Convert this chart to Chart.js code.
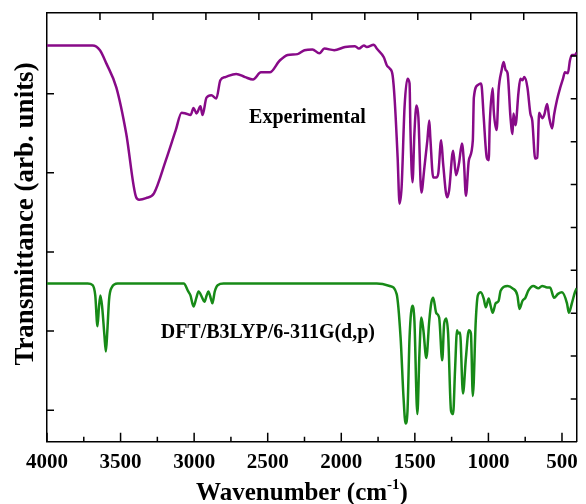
<!DOCTYPE html>
<html>
<head>
<meta charset="utf-8">
<script src="https://cdn.jsdelivr.net/npm/chart.js@4/dist/chart.umd.min.js"></script>
<style>
  html, body { margin: 0; padding: 0; background: #fff; }
  #wrap { width: 586px; height: 504px; }
</style>
</head>
<body>
<div id="wrap"><canvas id="irChart" width="586" height="504"></canvas></div>
<script>
// experimental FT-IR spectrum (wavenumber in cm-1, transmittance in arb. units)
let expWavenumber = [4000, 3690, 3640, 3596, 3529, 3462, 3394, 3374, 3327, 3273, 3192, 3125, 3085, 3058, 3024, 3004, 2984, 2957, 2943, 2916, 2883, 2849, 2822, 2788, 2714, 2654, 2600, 2546, 2486, 2418, 2364, 2297, 2250, 2196, 2149, 2115, 2048, 1974, 1907, 1880, 1846, 1826, 1779, 1759, 1711, 1691, 1671, 1651, 1637, 1617, 1604, 1590, 1570, 1550, 1536, 1530, 1516, 1503, 1489, 1476, 1456, 1435, 1415, 1402, 1395, 1375, 1355, 1341, 1321, 1308, 1281, 1267, 1240, 1220, 1200, 1180, 1166, 1153, 1133, 1106, 1099, 1072, 1052, 1045, 1032, 1011, 998, 991, 971, 964, 944, 931, 910, 897, 883, 870, 850, 836, 830, 816, 796, 783, 769, 756, 735, 715, 702, 682, 668, 655, 635, 621, 601, 587, 567, 554, 534, 513, 493, 480, 460, 446, 433, 412, 400]
let expTransmittance = [4.61, 4.61, 4.55, 4.38, 4.08, 3.50, 2.69, 2.66, 2.68, 2.74, 3.16, 3.54, 3.76, 3.75, 3.73, 3.82, 3.75, 3.84, 3.73, 3.95, 3.98, 3.94, 4.17, 4.21, 4.25, 4.21, 4.18, 4.27, 4.27, 4.42, 4.49, 4.50, 4.55, 4.56, 4.51, 4.57, 4.55, 4.59, 4.60, 4.57, 4.61, 4.59, 4.62, 4.57, 4.46, 4.36, 4.32, 4.23, 3.92, 3.19, 2.61, 2.82, 3.83, 4.19, 4.13, 3.54, 2.88, 3.50, 3.85, 3.70, 2.75, 3.07, 3.41, 3.66, 3.45, 2.94, 2.94, 2.99, 3.41, 3.12, 2.69, 2.78, 3.28, 2.97, 3.12, 3.37, 3.12, 2.71, 3.16, 3.41, 3.95, 4.11, 4.13, 4.08, 3.70, 3.19, 3.16, 3.62, 4.07, 3.79, 3.54, 4.04, 4.30, 4.40, 4.30, 4.26, 3.70, 3.49, 3.75, 3.60, 4.01, 4.19, 4.17, 4.21, 4.08, 3.75, 3.66, 3.18, 3.19, 3.76, 3.69, 3.73, 3.87, 3.70, 3.56, 3.73, 3.92, 4.07, 4.19, 4.27, 4.26, 4.42, 4.49, 4.49, 4.52]

// computed spectrum DFT/B3LYP/6-311G(d,p)
let dftWavenumber = [4000, 3724, 3690, 3672, 3657, 3647, 3637, 3625, 3610, 3600, 3590, 3578, 3560, 3520, 3071, 3040, 3025, 3004, 2985, 2970, 2945, 2930, 2915, 2903, 2885, 2876, 2860, 2840, 2800, 1759, 1671, 1624, 1597, 1577, 1563, 1550, 1536, 1516, 1503, 1483, 1469, 1456, 1442, 1422, 1402, 1388, 1375, 1355, 1335, 1314, 1301, 1287, 1274, 1254, 1240, 1227, 1213, 1207, 1193, 1173, 1153, 1133, 1119, 1106, 1086, 1072, 1052, 1032, 1018, 998, 985, 971, 951, 931, 917, 870, 836, 803, 789, 769, 749, 729, 695, 661, 635, 601, 581, 554, 527, 500, 466, 453, 433, 412, 400]
let dftTransmittance = [1.60, 1.60, 1.58, 1.45, 1.06, 1.30, 1.45, 1.30, 0.95, 0.74, 1.00, 1.40, 1.55, 1.60, 1.60, 1.50, 1.45, 1.31, 1.42, 1.50, 1.42, 1.37, 1.45, 1.50, 1.40, 1.35, 1.50, 1.58, 1.60, 1.60, 1.57, 1.47, 0.92, 0.16, -0.17, -0.01, 0.92, 1.32, 1.13, -0.05, 0.71, 1.17, 1.01, 0.66, 1.13, 1.36, 1.42, 1.23, 1.17, 0.63, 1.09, 1.16, 0.97, -0.01, -0.05, 0.50, 1.01, 0.97, 0.98, 0.21, 0.66, 1.01, 0.97, 0.18, 1.13, 1.45, 1.49, 1.41, 1.30, 1.41, 1.32, 1.23, 1.35, 1.38, 1.51, 1.57, 1.54, 1.45, 1.28, 1.38, 1.42, 1.51, 1.57, 1.54, 1.57, 1.55, 1.55, 1.42, 1.47, 1.49, 1.35, 1.23, 1.35, 1.49, 1.54]

let xTickValues = [4000, 3500, 3000, 2500, 2000, 1500, 1000, 500]
let yTickValues = [0, 1, 2, 3, 4]

function toPoints(xs, ys) {
    return xs.map((x, i) => ({x: x, y: ys[i]}))
}

const serif = '"Liberation Serif", "Times New Roman", serif'

// inward tick marks, curve labels and axis titles
const decorations = {
    id: 'decorations',
    afterDraw(chart) {
        const {ctx, chartArea: a, scales} = chart
        ctx.save()
        ctx.strokeStyle = '#000'
        ctx.lineWidth = 1.5
        ctx.beginPath()
        xTickValues.forEach(v => {
            let px = scales.x.getPixelForValue(v)
            ctx.moveTo(px, a.bottom); ctx.lineTo(px, a.bottom - 9)
            let m = v - 250
            if (m > 400) {
                let pm = scales.x.getPixelForValue(m)
                ctx.moveTo(pm, a.bottom); ctx.lineTo(pm, a.bottom - 5)
            }
        })
        for (let i = 1; i < 10; i++) {
            let px = scales.x2.getPixelForValue(i)
            ctx.moveTo(px, a.top); ctx.lineTo(px, a.top + 7)
            let py = scales.y2.getPixelForValue(i)
            ctx.moveTo(a.right, py); ctx.lineTo(a.right - 6, py)
        }
        yTickValues.forEach(v => {
            let py = scales.y.getPixelForValue(v)
            ctx.moveTo(a.left, py); ctx.lineTo(a.left + 7, py)
        })
        ctx.stroke()

        ctx.fillStyle = '#000'
        ctx.textAlign = 'center'
        ctx.textBaseline = 'middle'
        ctx.font = 'bold 20px ' + serif
        ctx.fillText('Experimental', scales.x.getPixelForValue(2230), scales.y.getPixelForValue(3.69))
        ctx.fillText('DFT/B3LYP/6-311G(d,p)', scales.x.getPixelForValue(2499), scales.y.getPixelForValue(0.98))

        // x title with superscript
        ctx.textBaseline = 'alphabetic'
        ctx.textAlign = 'left'
        let big = 'bold 25px ' + serif, small = 'bold 15px ' + serif
        ctx.font = big
        let w1 = ctx.measureText('Wavenumber (cm').width
        let w3 = ctx.measureText(')').width
        ctx.font = small
        let w2 = ctx.measureText('-1').width
        let x0 = 302 - (w1 + w2 + w3) / 2
        ctx.font = big
        ctx.fillText('Wavenumber (cm', x0, 500)
        ctx.font = small
        ctx.fillText('-1', x0 + w1, 489)
        ctx.font = big
        ctx.fillText(')', x0 + w1 + w2, 500)

        // y title
        ctx.translate(33, 214)
        ctx.rotate(-Math.PI / 2)
        ctx.textAlign = 'center'
        ctx.font = 'bold 27px ' + serif
        ctx.fillText('Transmittance (arb. units)', 0, 0)
        ctx.restore()
    }
}

let ctx = document.getElementById('irChart').getContext('2d')

let chart = new Chart(ctx, {
    type: 'line',
    data: {
        datasets: [{
            label: 'Experimental',
            data: toPoints(expWavenumber, expTransmittance),
            borderColor: '#880a88',
            borderWidth: 2.5,
            pointRadius: 0,
            cubicInterpolationMode: 'monotone',
            fill: false
        }, {
            label: 'DFT/B3LYP/6-311G(d,p)',
            data: toPoints(dftWavenumber, dftTransmittance),
            borderColor: '#178a17',
            borderWidth: 2.5,
            pointRadius: 0,
            cubicInterpolationMode: 'monotone',
            fill: false
        }]
    },
    options: {
        responsive: false,
        animation: false,
        layout: {padding: {top: 13, left: 47, right: 4, bottom: 21}},
        plugins: {legend: {display: false}, tooltip: {enabled: false}},
        scales: {
            x: {
                type: 'linear', position: 'bottom', reverse: true, min: 400, max: 4000,
                afterBuildTicks: s => { s.ticks = xTickValues.map(v => ({value: v})) },
                grid: {display: false, drawTicks: false},
                border: {display: true, color: '#000', width: 1.5},
                ticks: {
                    color: '#000', padding: 8, maxRotation: 0,
                    font: {family: serif, size: 21, weight: 'bold'},
                    callback: v => String(v)
                }
            },
            x2: {
                type: 'linear', position: 'top', min: 0, max: 10,
                grid: {display: false, drawTicks: false},
                border: {display: true, color: '#000', width: 1.5},
                ticks: {display: false}
            },
            y: {
                type: 'linear', position: 'left', min: -0.4, max: 5.02,
                afterBuildTicks: s => { s.ticks = yTickValues.map(v => ({value: v})) },
                grid: {display: false, drawTicks: false},
                border: {display: true, color: '#000', width: 1.5},
                ticks: {display: false}
            },
            y2: {
                type: 'linear', position: 'right', min: 0, max: 10,
                grid: {display: false, drawTicks: false},
                border: {display: true, color: '#000', width: 1.5},
                ticks: {display: false}
            }
        }
    },
    plugins: [decorations]
})
</script>
</body>
</html>
